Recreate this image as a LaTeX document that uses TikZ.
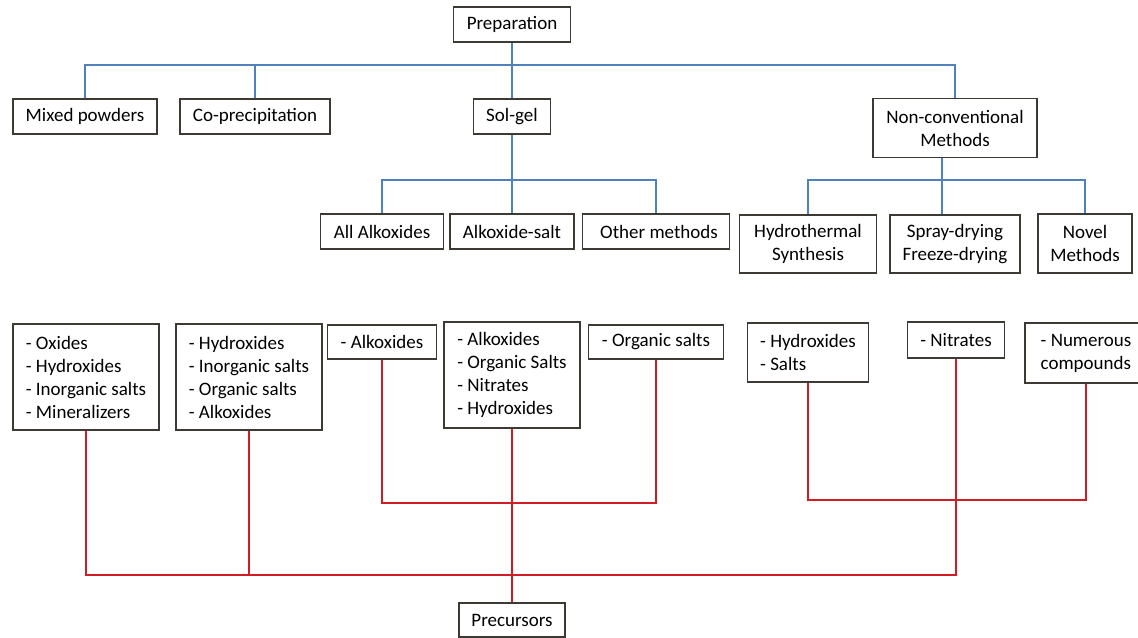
\documentclass[tikz,border=0pt]{standalone}
\usepackage{fontspec}
\setmainfont{Carlito}
\usepackage{tikz}
\usetikzlibrary{calc,positioning}
\definecolor{boxcol}{RGB}{60,58,50}
\definecolor{bluecol}{RGB}{79,129,189}
\definecolor{redcol}{RGB}{208,28,34}
\begin{document}
\begin{tikzpicture}[line join=miter,
  box/.style={draw=boxcol,line width=1.3bp,inner sep=0pt,align=center,
    font=\fontsize{19bp}{23bp}\selectfont},
  lst/.style={box,align=left},
  blu/.style={draw=bluecol,line width=1.5bp},
  rd/.style={draw=redcol,line width=1.8bp}]
\useasboundingbox (0bp,0bp) rectangle (1138bp,638bp);
%%
\node (prep) at (512bp,613.5bp) [box,minimum width=117bp,minimum height=35bp] {Preparation};
  \node (mix) at (85bp,521.5bp) [box,minimum width=144bp,minimum height=35bp] {Mixed powders};
  \node (cop) at (255bp,521.5bp) [box,minimum width=150bp,minimum height=35bp] {Co-precipitation};
  \node (sol) at (512bp,521.5bp) [box,minimum width=77bp,minimum height=35bp] {Sol-gel};
  \node (nc) at (955bp,510bp) [box,minimum width=164bp,minimum height=59bp] {Non-conventional\\Methods};
  \node (allalk) at (382bp,406.5bp) [box,minimum width=123bp,minimum height=35bp] {All Alkoxides};
  \node (alks) at (512bp,406.5bp) [box,minimum width=124bp,minimum height=35bp] {Alkoxide-salt};
  \node (other) at (656bp,406.5bp) [box,minimum width=147bp,minimum height=35bp] {\hspace{6bp}Other methods};
  \node (hydro) at (808bp,394bp) [box,minimum width=137bp,minimum height=58bp] {Hydrothermal\\Synthesis};
  \node (spray) at (955bp,394bp) [box,minimum width=130bp,minimum height=58bp] {Spray-drying\\Freeze-drying};
  \node (novel) at (1085bp,394.5bp) [box,minimum width=94bp,minimum height=59bp] {Novel\\Methods};
  \node (b1) at (86bp,261bp) [lst,minimum width=146bp,minimum height=106bp] {- Oxides\\- Hydroxides\\- Inorganic salts\\- Mineralizers};
  \node (b2) at (249bp,261bp) [lst,minimum width=146bp,minimum height=106bp] {- Hydroxides\\- Inorganic salts\\- Organic salts\\- Alkoxides};
  \node (alk1) at (382bp,296bp) [box,minimum width=109bp,minimum height=34bp] {- Alkoxides};
  \node (b4) at (512bp,263bp) [lst,minimum width=136bp,minimum height=106bp] {- Alkoxides\\- Organic Salts\\- Nitrates\\- Hydroxides};
  \node (org) at (656bp,296bp) [box,minimum width=135bp,minimum height=34bp] {- Organic salts};
  \node (hyd) at (808bp,285.5bp) [lst,minimum width=121bp,minimum height=59bp] {- Hydroxides\\- Salts};
  \node (nit) at (956bp,298bp) [box,minimum width=97bp,minimum height=36bp] {- Nitrates};
  \node (num) at (1086bp,285bp) [lst,minimum width=122bp,minimum height=60bp] {- Numerous\\compounds};
  \node (prec) at (512bp,18bp) [box,minimum width=106bp,minimum height=34bp] {Precursors};
  \coordinate (tbar) at (0bp,573bp);
  \coordinate (sbar) at (0bp,458bp);
  \coordinate (rA) at (0bp,135bp);
  \coordinate (rB) at (0bp,138bp);
  \coordinate (rC) at (0bp,63bp);
  \coordinate (ncs) at ([xshift=-13bp]nc.south);
%
  \draw [blu] (prep) -- (sol);
  \draw [blu] (mix) -- (mix.north |- tbar) -- (nc.north |- tbar) -- (nc);
  \draw [blu] (cop) -- (cop.north |- tbar);
  \draw [blu] (sol) -- (alks);
  \draw [blu] (allalk) -- (allalk.north |- sbar) -- (other.north |- sbar) -- (other);
  \draw [blu] (ncs) -- (spray.north -| ncs);
  \draw [blu] (hydro) -- (hydro.north |- sbar) -- (novel.north |- sbar) -- (novel);
%
  \draw [rd] (alk1) -- (alk1.south |- rA) -- (org.south |- rA) -- (org);
  \draw [rd] (b4) -- (prec);
  \draw [rd] (hyd) -- (hyd.south |- rB) -- (num.south |- rB) -- (num);
  \draw [rd] (b1) -- (b1.south |- rC) -- (nit.south |- rC) -- (nit);
  \draw [rd] (b2) -- (b2.south |- rC);
%
\end{tikzpicture}
\end{document}
